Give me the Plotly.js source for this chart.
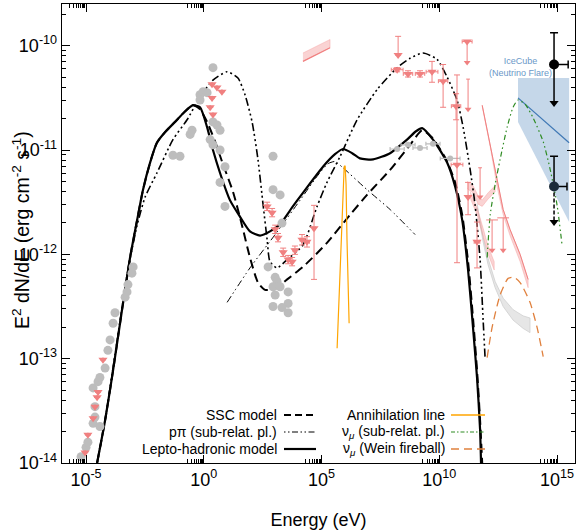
<!DOCTYPE html>
<html><head><meta charset="utf-8">
<script src="https://cdn.plot.ly/plotly-3.0.1.min.js"></script>
<style>html,body{margin:0;padding:0;background:#fff}#chart{width:579px;height:532px}</style>
</head><body><div id="chart"></div>
<script>
// All values: log10(E / eV) and log10(E^2 dN/dE / erg cm^-2 s^-1)
const xTickExp = [-5, 0, 5, 10, 15];
const xTickText = ['10<sup>-5</sup>','10<sup>0</sup>','10<sup>5</sup>','10<sup>10</sup>','10<sup>15</sup>'];
const yTickExp = [-14, -13, -12, -11, -10];
const yTickText = ['10<sup>-14</sup>','10<sup>-13</sup>','10<sup>-12</sup>','10<sup>-11</sup>','10<sup>-10</sup>'];

// Lepto-hadronic model
const lhLogE = [-4.53,-4.19,-3.85,-3.47,-3.13,-2.83,-2.58,-2.28,-1.99,-1.65,-1.22,-0.80,-0.46,-0.16,0.14,0.39,0.69,1.11,1.54,1.96,2.39,2.81,3.24,3.75,4.21,5.06,5.57,5.91,6.30,6.63,7.19,7.91,8.63,9.01,9.27,9.73,10.33,10.67,10.97,11.22,11.43,11.60,11.73,11.77];
const lhLogF = [-14.00,-13.59,-13.11,-12.53,-12.03,-11.67,-11.38,-11.12,-10.93,-10.83,-10.73,-10.63,-10.57,-10.59,-10.78,-11.00,-11.22,-11.48,-11.64,-11.78,-11.82,-11.78,-11.71,-11.55,-11.41,-11.16,-11.04,-10.99,-11.03,-11.08,-11.09,-11.03,-10.90,-10.82,-10.79,-10.90,-11.12,-11.35,-11.67,-12.15,-12.70,-13.18,-13.68,-14.00];
// SSC model
const sscLogE = [-4.53,-4.19,-3.85,-3.47,-3.13,-2.83,-2.58,-2.28,-1.99,-1.65,-1.22,-0.80,-0.46,-0.16,0.14,0.48,0.82,1.24,1.62,1.96,2.30,2.60,3.03,3.54,4.21,5.23,6.21,6.93,7.91,8.76,9.27,9.69,10.29,10.67,10.97,11.22,11.43,11.60,11.73,11.82];
const sscLogF = [-14.00,-13.59,-13.11,-12.53,-12.03,-11.67,-11.38,-11.12,-10.93,-10.83,-10.73,-10.63,-10.57,-10.61,-10.73,-10.92,-11.14,-11.40,-11.72,-12.03,-12.27,-12.34,-12.33,-12.24,-12.12,-11.89,-11.62,-11.43,-11.19,-10.95,-10.81,-10.88,-11.09,-11.31,-11.62,-12.07,-12.61,-13.11,-13.59,-14.00];
// high-state curve (dash-dot-dot)
const hiLogE = [-4.53,-4.19,-3.77,-3.22,-2.83,-2.49,-1.99,-1.31,-0.71,-0.16,0.39,0.99,1.45,1.75,2.05,2.30,2.52,2.69,2.81,3.11,3.54,4.21,4.81,5.23,5.79,6.51,7.36,8.21,8.76,9.31,9.90,10.33,10.75,11.01,11.31,11.52,11.73,11.86,11.94];
const hiLogF = [-14.00,-13.59,-12.96,-12.15,-11.72,-11.45,-11.22,-10.90,-10.71,-10.49,-10.33,-10.25,-10.31,-10.47,-10.73,-11.09,-11.53,-11.86,-12.07,-12.13,-12.05,-11.91,-11.54,-11.31,-11.06,-10.71,-10.42,-10.21,-10.12,-10.07,-10.13,-10.30,-10.52,-10.78,-11.19,-11.53,-12.05,-12.63,-12.98];
// p-pi (sub-relat. pl.)
const ppLogE = [0.99,1.96,3.03,4.09,4.85,5.28,5.57,5.91,6.93,7.91,8.97];
const ppLogF = [-12.46,-12.13,-11.81,-11.48,-11.24,-11.13,-11.11,-11.17,-11.38,-11.57,-11.81];
// annihilation line
const anLogE = [5.66,5.79,5.87,5.91,5.96,6.00,6.04,6.08,6.17];
const anLogF = [-12.90,-12.15,-11.53,-11.29,-11.16,-11.15,-11.33,-11.86,-12.66];
// nu_mu sub-relat. pl.
const nsLogE = [12.03,12.16,12.37,12.58,12.88,13.13,13.34,13.64,13.98,14.41,14.71,15.00,15.21];
const nsLogF = [-12.03,-11.62,-11.33,-11.09,-10.78,-10.59,-10.52,-10.56,-10.69,-10.92,-11.19,-11.53,-11.91];
// nu_mu Wein fireball
const nwLogE = [12.03,12.24,12.58,12.92,13.17,13.43,13.85,14.15,14.41];
const nwLogF = [-12.99,-12.70,-12.39,-12.23,-12.22,-12.27,-12.46,-12.70,-12.98];

// bands
const gbLogE = [11.60,11.86,12.07,12.37,12.71,13.13,13.56,13.85];
const gbLo = [-11.55,-11.88,-12.10,-12.32,-12.50,-12.63,-12.71,-12.75];
const gbHi = [-11.51,-11.84,-12.04,-12.26,-12.42,-12.53,-12.59,-12.61];
const r0LogE = [4.21,4.79,5.36], r0Hi = [-10.07,-10.005,-9.94], r0Lo = [-10.15,-10.085,-10.02];
const r1LogE = [11.18,11.43,11.65,11.82,12.07,12.37];
const r1Hi = [-11.30,-11.34,-11.44,-11.48,-11.41,-11.34], r1Lo = [-11.37,-11.41,-11.52,-11.54,-11.47,-11.40];
const r2LogE = [11.31,11.60,11.86,12.07,12.33];
const r2Hi = [-11.40,-11.55,-11.75,-11.92,-12.07], r2Lo = [-11.46,-11.62,-11.82,-12.00,-12.15];
const r3LogE = [11.82,12.16,12.45,12.71,13.00,13.43,13.77];
const r3Hi = [-10.57,-10.95,-11.31,-11.57,-11.76,-12.00,-12.24], r3Lo = [-10.58,-10.97,-11.35,-11.62,-11.82,-12.07,-12.32];
const icLogE = [13.34,15.51], icHi = [-10.31,-10.31], icLo = [-10.73,-11.69], icLine = [-10.50,-10.93];

// grey data
const gLogE = [-5.21,-5.00,-4.92,-4.70,-4.62,-4.62,-4.70,-4.49,-4.41,-4.19,-4.41,-4.07,-3.98,-3.85,-3.77,-3.34,-3.26,-3.22,-3.05,-3.00,-1.31,-1.01,-0.58,-0.50,-0.16,-0.03,0.14,-0.16,0.39,0.39,0.56,0.69,0.27,0.39,0.69,0.90,0.69,0.90,2.94,2.94,3.24,3.32,2.73,3.03,3.11,2.94,3.24,3.03,3.58,3.58,3.58,2.94,3.32];
const gLogF = [-13.94,-13.85,-13.80,-13.62,-13.56,-13.46,-13.28,-13.22,-13.18,-13.09,-13.65,-12.92,-12.82,-12.66,-12.56,-12.41,-12.36,-12.29,-12.18,-12.12,-11.05,-11.06,-10.85,-10.81,-10.47,-10.44,-10.45,-10.52,-10.21,-10.73,-10.76,-10.81,-10.90,-10.95,-11.00,-11.16,-11.31,-11.54,-11.06,-11.38,-11.43,-11.70,-12.12,-12.22,-12.26,-12.31,-12.31,-12.39,-12.36,-12.47,-12.56,-12.50,-12.51];
const ggLogE = [8.21,8.67,9.18,9.73,10.46], ggLogF = [-10.99,-10.95,-10.98,-10.94,-11.08], ggXerr = [0.3,0.3,0.3,0.3,0.42];

// red data (triangles)
const rtLogE = [-4.28,-4.49,-4.53,-4.62,-4.70,-4.92,-5.04, 0.35,0.56,0.77,0.35,0.27,0.39, 2.69,2.90,3.03,3.15,3.37,3.58,3.75,3.87,4.17,4.38,4.68, 8.25,8.21,8.67,9.18,9.69,10.16,10.71,10.75,11.22,11.60, 11.18];
const rtLogF = [-13.01,-13.32,-13.37,-13.46,-13.57,-13.73,-13.90, -10.37,-10.40,-10.44,-10.50,-10.59,-10.66, -11.54,-11.60,-11.76,-11.84,-11.98,-12.05,-12.07,-11.96,-11.86,-11.88,-11.75, -10.09,-10.23,-10.27,-10.27,-10.25,-10.34,-10.58,-11.14,-11.45,-11.88, -9.96];
const rtXerr = [0,0,0,0,0,0,0, 0,0,0,0,0,0, 0.06,0.06,0.06,0.06,0.06,0.06,0.06,0.08,0.08,0.1,0.05, 0,0.25,0.2,0.2,0.25,0.2,0.2,0.25,0,0.12, 0.21];
const rtYup = [0,0,0,0,0,0,0, 0,0,0,0,0,0, 0.04,0.04,0.04,0.04,0.04,0.04,0.04,0.04,0.05,0.05,0.22, 0.18,0.02,0.03,0.03,0.10,0.16,0.12,0.86,0.14,0.19, 0];
const rtYdn = [0,0,0,0,0,0,0, 0,0,0,0,0,0, 0.04,0.04,0.04,0.04,0.04,0.04,0.04,0.04,0.05,0.05,0.49, 0,0.02,0.03,0.03,0.10,0.25,0.13,0.94,0.17,0.25, 0];
// red upper limits
const ulLogE = [11.18,11.22,11.73,12.24,12.71];
const ulCap = [-9.96,-10.32,-11.17,-11.67,-11.65];
const ulTip = [-10.16,-10.61,-11.45,-11.96,-11.96];
const ulXerr = [0,0.08,0.08,0.25,0.25];
// IceCube points
const bLogE = [14.87,14.87], bLogF = [-10.18,-11.35], bXplus = [0.6,0.55], bYup = [0.305,0.29], bTip = [-10.55,-11.69];

const FONT = "'Liberation Sans Narrow', 'Liberation Sans', Arial, sans-serif";
const P = v => Math.pow(10, v);
const L = a => a.map(P);
const band = (E, hi, lo) => ({x: L(E.concat(E.slice().reverse())), y: L(hi.concat(lo.slice().reverse()))});
const ePlus = (V, d) => V.map((v,i) => P(v + d[i]) - P(v));
const eMinus = (V, d) => V.map((v,i) => P(v) - P(v - d[i]));
const segs = (E, a, b) => { const x=[], y=[]; E.forEach((e,i)=>{x.push(P(e),P(e),null); y.push(P(a[i]),P(b[i]),null);}); return {x,y}; };

const RED = '#F08080', PINK = 'rgba(243,150,150,0.42)';
const traces = [];
const ic = band(icLogE, icHi, icLo);
traces.push({x: ic.x, y: ic.y, mode:'lines', fill:'toself', fillcolor:'#C5D7E9', line:{width:0}});
traces.push({x: L(icLogE), y: L(icLine), mode:'lines', line:{color:'#3F78B5', width:1.2}});
const gb = band(gbLogE, gbHi, gbLo);
traces.push({x: gb.x, y: gb.y, mode:'lines', fill:'toself', fillcolor:'#E6E6E6', line:{color:'#CFCFCF', width:0.8}});
[[r0LogE,r0Hi,r0Lo],[r1LogE,r1Hi,r1Lo],[r2LogE,r2Hi,r2Lo],[r3LogE,r3Hi,r3Lo]].forEach(b => {
  const p = band(b[0], b[1], b[2]);
  traces.push({x:p.x, y:p.y, mode:'lines', fill:'toself', fillcolor:PINK, line:{color:'rgba(240,128,128,0.5)', width:0.6}});
});
traces.push({x: L(r0LogE), y: L(r0Lo), mode:'lines', line:{color:RED, width:1.2}});
traces.push({x: L(r3LogE), y: L(r3Hi), mode:'lines', line:{color:RED, width:1}});

const sp = {shape:'spline', smoothing:0.6};
traces.push({x:L(ppLogE), y:L(ppLogF), mode:'lines', line:Object.assign({color:'black', width:1, dash:'7px,3px,1.5px,3px,1.5px,3px'}, sp)});
traces.push({x:L(hiLogE), y:L(hiLogF), mode:'lines', line:Object.assign({color:'black', width:1.6, dash:'2px,3px,2px,3px,2px,3px,8px,3px'}, sp)});
traces.push({x:L(sscLogE), y:L(sscLogF), mode:'lines', line:Object.assign({color:'black', width:2, dash:'9px,5px'}, sp)});
traces.push({x:L(lhLogE), y:L(lhLogF), mode:'lines', line:Object.assign({color:'black', width:2.2}, sp)});
traces.push({x:L(anLogE), y:L(anLogF), mode:'lines', line:{color:'#FFA500', width:1.2}});
traces.push({x:L(nsLogE), y:L(nsLogF), mode:'lines', line:Object.assign({color:'#2E8B22', width:1.2, dash:'5px,3px,1.5px,3px,1.5px,3px'}, sp)});
traces.push({x:L(nwLogE), y:L(nwLogF), mode:'lines', line:Object.assign({color:'#E0813E', width:1.3, dash:'8px,5px'}, sp)});

traces.push({x:L(gLogE), y:L(gLogF), mode:'markers', marker:{symbol:'circle', size:9, color:'#BDBDBD'}});
traces.push({x:L(ggLogE), y:L(ggLogF), mode:'markers', marker:{symbol:'circle', size:6, color:'#BDBDBD'},
  error_x:{type:'data', symmetric:false, array:ePlus(ggLogE, ggXerr), arrayminus:eMinus(ggLogE, ggXerr), color:'#BDBDBD', thickness:1.2, width:2},
  error_y:{type:'data', array:ggLogF.map(v=>P(v+0.02)-P(v)), arrayminus:ggLogF.map(v=>P(v)-P(v-0.02)), symmetric:false, color:'#BDBDBD', thickness:1.2, width:0}});

const ul = segs(ulLogE, ulCap, ulTip);
traces.push({x:ul.x, y:ul.y, mode:'lines', line:{color:RED, width:1}});
traces.push({x:L(ulLogE), y:L(ulTip), mode:'markers', marker:{symbol:'triangle-down', size:6, color:RED}});
traces.push({x:L(ulLogE), y:L(ulCap), mode:'markers', marker:{size:1, color:'rgba(0,0,0,0)'},
  error_x:{type:'data', symmetric:false, array:ePlus(ulLogE, ulXerr), arrayminus:eMinus(ulLogE, ulXerr), color:RED, thickness:1, width:0}});
traces.push({x:L(rtLogE), y:L(rtLogF), mode:'markers', marker:{symbol:'triangle-down', size:8, color:RED},
  error_x:{type:'data', symmetric:false, array:ePlus(rtLogE, rtXerr), arrayminus:eMinus(rtLogE, rtXerr), color:RED, thickness:1, width:2},
  error_y:{type:'data', symmetric:false, array:ePlus(rtLogF, rtYup), arrayminus:eMinus(rtLogF, rtYdn), color:RED, thickness:1, width:3}});

const b0 = segs([bLogE[0]], [bLogF[0]], [bTip[0]]);
traces.push({x:b0.x, y:b0.y, mode:'lines', line:{color:'black', width:1.5}});
const b1 = segs([bLogE[1]], [bLogF[1]], [bTip[1]]);
traces.push({x:b1.x, y:b1.y, mode:'lines', line:{color:'black', width:1.5, dash:'4px,2px'}});
traces.push({x:L(bLogE), y:L(bTip), mode:'markers', marker:{symbol:'triangle-down', size:8, color:'black'}});
traces.push({x:L(bLogE), y:L(bLogF), mode:'markers', marker:{symbol:'circle', size:10, color:['#000000','#1B2B3A']},
  error_x:{type:'data', symmetric:false, array:ePlus(bLogE, bXplus), arrayminus:[0,0], color:'black', thickness:1.5, width:4},
  error_y:{type:'data', symmetric:false, array:ePlus(bLogF, bYup), arrayminus:[0,0], color:'black', thickness:1.5, width:4}});

traces.forEach(t => { t.showlegend = false; t.hoverinfo = 'skip'; if (!t.type) t.type = 'scatter'; });

// manual legend (gnuplot style: text then sample)
const X0 = 62, X1 = 575, Y0 = 4, Y1 = 463;
const px = v => (v - X0) / (X1 - X0), py = v => (Y1 - v) / (Y1 - Y0);
const legRows = [
  {t:'SSC model', tx:279, s0:284, s1:316, y:415, line:{color:'black', width:2, dash:'7px,4px'}},
  {t:'pπ (sub-relat. pl.)', tx:279, s0:284, s1:316, y:432, line:{color:'black', width:1, dash:'1.5px,2.5px,1.5px,2.5px,6px,2.5px'}},
  {t:'Lepto-hadronic model', tx:279, s0:284, s1:316, y:449, line:{color:'black', width:2.2}},
  {t:'Annihilation line', tx:447, s0:451, s1:485, y:415, line:{color:'#FFA500', width:1.3}},
  {t:'ν<sub><i>μ</i></sub> (sub-relat. pl.)', tx:447, s0:451, s1:485, y:432, line:{color:'#2E8B22', width:1.2, dash:'4px,2px,1.5px,2px'}},
  {t:'ν<sub><i>μ</i></sub> (Wein fireball)', tx:447, s0:451, s1:485, y:449, line:{color:'#E0813E', width:1.3, dash:'8px,5px'}}
];
const annotations = legRows.map(r => ({xref:'paper', yref:'paper', x:px(r.tx), y:py(r.y), xanchor:'right', yanchor:'middle', showarrow:false, text:r.t, font:{family:FONT, size:14, color:'black'}}));
const shapes = legRows.map(r => ({type:'line', xref:'paper', yref:'paper', x0:px(r.s0), x1:px(r.s1), y0:py(r.y), y1:py(r.y), line:r.line}));
annotations.push({xref:'x', yref:'y', x:13.43, y:-10.20, showarrow:false, text:'IceCube<br>(Neutrino Flare)', font:{family:FONT, size:9, color:'#6A98C8'}, align:'center'});
// y-axis title (placed close to the tick labels, as in the reference)
annotations.push({xref:'paper', yref:'paper', x:px(21), y:py(230), xanchor:'center', yanchor:'middle', textangle:-90, showarrow:false,
  text:'E<sup>2</sup> dN/dE (erg cm<sup>-2</sup> s<sup>-1</sup>)', font:{family:FONT, size:19.5, color:'black'}});

const xMinor = [], yMinor = [];
xTickExp.forEach(m => { for (let k=2;k<=9;k++) xMinor.push(k*P(m-1)); });
yTickExp.forEach(m => { for (let k=2;k<=9;k++) yMinor.push(k*P(m)); });

const axBase = {type:'log', showgrid:false, zeroline:false, showline:true, linecolor:'black', linewidth:1.3, mirror:'allticks', ticks:'inside', ticklen:8, tickwidth:1, tickcolor:'black', automargin:false, tickfont:{family:FONT, size:18, color:'black'}};
const layout = {
  width:579, height:532, margin:{l:62, r:4, t:4, b:69}, paper_bgcolor:'white', plot_bgcolor:'white', showlegend:false,
  font:{family:FONT, color:'black'},
  xaxis: Object.assign({}, axBase, {range:[-6.02, 15.76], tickmode:'array', tickvals:L(xTickExp), ticktext:xTickText,
    minor:{tickmode:'array', tickvals:xMinor, ticks:'inside', ticklen:4, tickcolor:'black'},
    title:{text:'Energy (eV)', font:{family:FONT, size:18, color:'black'}, standoff:24}}),
  yaxis: Object.assign({}, axBase, {range:[-14, -9.6], tickmode:'array', tickvals:L(yTickExp), ticktext:yTickText,
    minor:{tickmode:'array', tickvals:yMinor, ticks:'inside', ticklen:4, tickcolor:'black'}}),
  annotations, shapes
};
Plotly.newPlot('chart', traces, layout, {staticPlot:true, displayModeBar:false});
</script></body></html>
